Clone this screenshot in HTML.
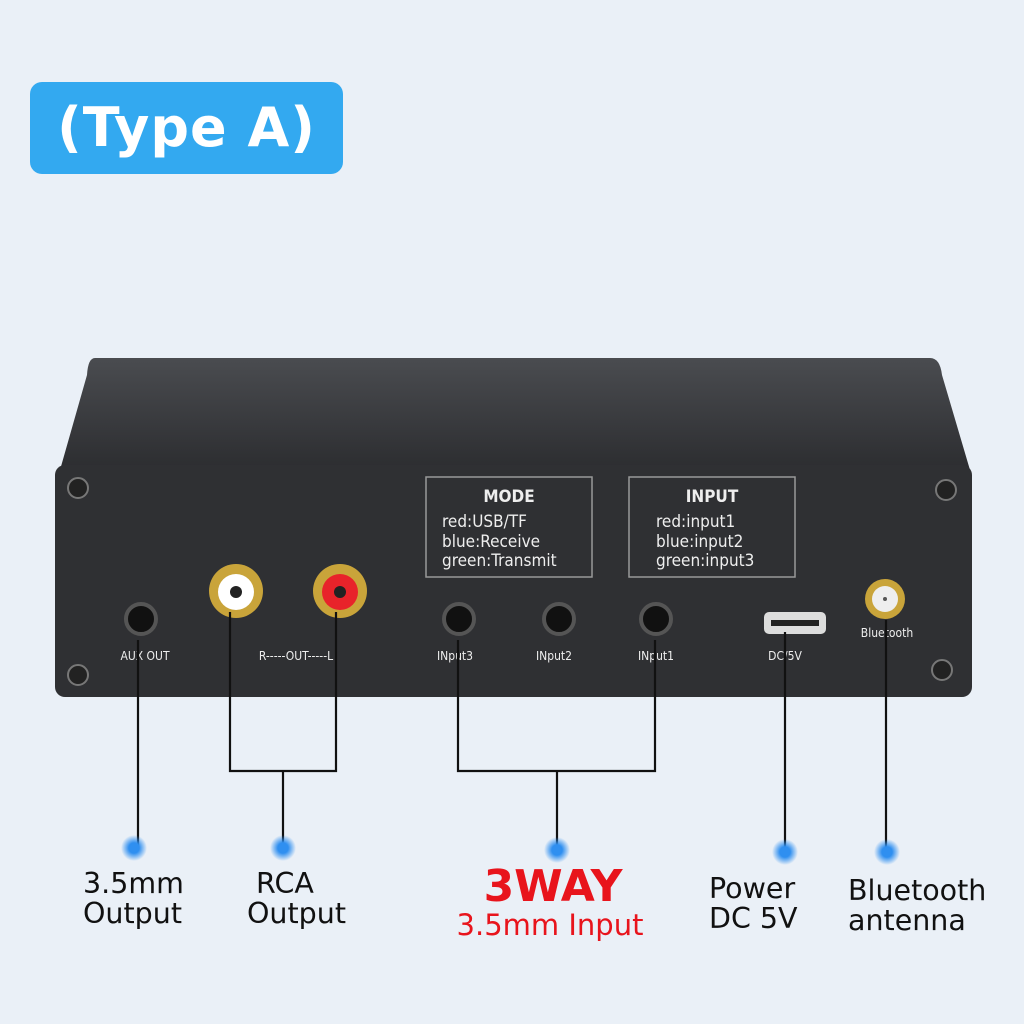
<!DOCTYPE html><html><head><style>
body{margin:0;width:1024px;height:1024px;background:#eaf0f7;position:relative;overflow:hidden;font-family:"DejaVu Sans","Liberation Sans",sans-serif}
.a{position:absolute}
.lab{position:absolute;font-size:28.5px;line-height:30px;color:#111}
</style></head><body>
<div class="a" style="left:30px;top:82px;width:313px;height:92px;background:#33a9f0;border-radius:12px;color:#fff;font-weight:bold;font-size:54px;line-height:92px;text-align:center;letter-spacing:1px">(Type A)</div>
<svg class="a" style="left:0;top:0" width="1024" height="1024">
<defs><linearGradient id="g" x1="0" y1="0" x2="0" y2="1"><stop offset="0" stop-color="#4a4c50"/><stop offset="1" stop-color="#2c2d30"/></linearGradient>
<radialGradient id="d"><stop offset="0.4" stop-color="#2f8ff0"/><stop offset="1" stop-color="#2f8ff0" stop-opacity="0"/></radialGradient></defs>
<path d="M95 358 Q88 358 87 375 L60 470 L970 470 L942 375 Q940 358 930 358 Z" fill="url(#g)"/>
<rect x="55" y="465" width="917" height="232" rx="10" fill="#2f3033"/>
<g fill="#222" stroke="#777" stroke-width="2">
<circle cx="78" cy="488" r="10"/><circle cx="946" cy="490" r="10"/><circle cx="78" cy="675" r="10"/><circle cx="942" cy="670" r="10"/></g>
<rect x="426" y="477" width="166" height="100" fill="none" stroke="#999" stroke-width="1.5"/>
<rect x="629" y="477" width="166" height="100" fill="none" stroke="#999" stroke-width="1.5"/>
<g fill="#eee" font-family="DejaVu Sans Condensed,DejaVu Sans,sans-serif" font-size="17">
<text x="509" y="502" text-anchor="middle" font-weight="bold">MODE</text>
<text x="442" y="527">red:USB/TF</text><text x="442" y="547">blue:Receive</text><text x="442" y="566">green:Transmit</text>
<text x="712" y="502" text-anchor="middle" font-weight="bold">INPUT</text>
<text x="656" y="527">red:input1</text><text x="656" y="547">blue:input2</text><text x="656" y="566">green:input3</text>
<g font-size="12"><text x="145" y="660" text-anchor="middle">AUX OUT</text><text x="296" y="660" text-anchor="middle">R-----OUT-----L</text>
<text x="455" y="660" text-anchor="middle">INput3</text><text x="554" y="660" text-anchor="middle">INput2</text><text x="656" y="660" text-anchor="middle">INput1</text>
<text x="785" y="660" text-anchor="middle">DC/5V</text><text x="887" y="637" text-anchor="middle">Bluetooth</text></g></g>
<g fill="#111" stroke="#555" stroke-width="4"><circle cx="141" cy="619" r="15"/><circle cx="459" cy="619" r="15"/><circle cx="559" cy="619" r="15"/><circle cx="656" cy="619" r="15"/></g>
<circle cx="236" cy="591" r="27" fill="#c9a43a"/><circle cx="236" cy="592" r="18" fill="#fff"/><circle cx="236" cy="592" r="6" fill="#222"/>
<circle cx="340" cy="591" r="27" fill="#c9a43a"/><circle cx="340" cy="592" r="18" fill="#e8232a"/><circle cx="340" cy="592" r="6" fill="#222"/>
<rect x="764" y="612" width="62" height="22" rx="5" fill="#ddd"/><rect x="771" y="620" width="48" height="6" fill="#222"/>
<circle cx="885" cy="599" r="20" fill="#c9a43a"/><circle cx="885" cy="599" r="13" fill="#eee"/><circle cx="885" cy="599" r="2" fill="#555"/>
<g stroke="#111" stroke-width="2.2" fill="none">
<path d="M138 640V848M230 612V771H336V612M283 771V848M458 640V771H655V640M557 771V850M785 632V852M886 620V852"/></g>
<g><circle cx="134" cy="848" r="13" fill="url(#d)"/><circle cx="283" cy="848" r="13" fill="url(#d)"/><circle cx="557" cy="850" r="13" fill="url(#d)"/><circle cx="785" cy="852" r="13" fill="url(#d)"/><circle cx="887" cy="852" r="13" fill="url(#d)"/></g>
</svg>
<div class="lab" style="left:83px;top:869px">3.5mm<br>Output</div>
<div class="lab" style="left:247px;top:869px">&nbsp;RCA<br>Output</div>
<div class="a" style="left:440px;top:862px;width:226px;text-align:center;color:#e8141c;font-weight:bold;font-size:44px;line-height:50px">3WAY</div>
<div class="a" style="left:430px;top:908px;width:240px;text-align:center;color:#e8141c;font-size:29px;line-height:34px">3.5mm Input</div>
<div class="lab" style="left:709px;top:874px">Power<br>DC 5V</div>
<div class="lab" style="left:848px;top:876px">Bluetooth<br>antenna</div>
</body></html>
